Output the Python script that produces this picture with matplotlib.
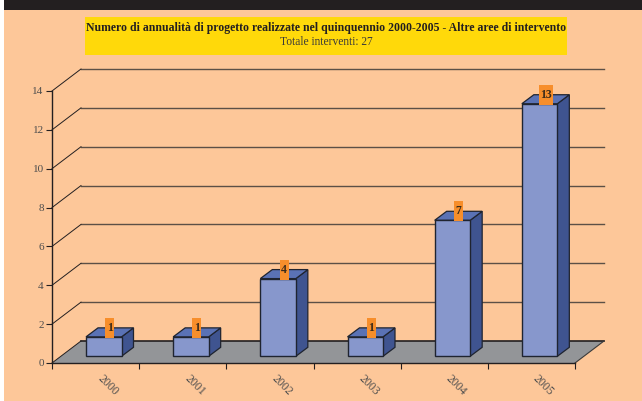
import matplotlib
matplotlib.use('Agg')
import matplotlib.pyplot as plt
from matplotlib.patches import Polygon, Rectangle

plt.rcParams['font.family'] = ['Liberation Serif', 'DejaVu Serif']

years = ['2000', '2001', '2002', '2003', '2004', '2005']
values = [1, 1, 4, 1, 7, 13]
yticks = [0, 2, 4, 6, 8, 10, 12, 14]
title = 'Numero di annualità di progetto realizzate nel quinquennio 2000-2005 - Altre aree di intervento'
subtitle = 'Totale interventi: 27'

W, H = 642, 401
fig = plt.figure(figsize=(W / 100, H / 100), dpi=100, facecolor='white')

# page background, in pixels
bg = fig.add_axes([0, 0, 1, 1])
bg.set_xlim(0, W)
bg.set_ylim(H, 0)
bg.axis('off')
bg.add_patch(Rectangle((3.5, 0), W, H, fc='#FDC799', ec='none'))
bg.add_patch(Rectangle((3.5, 0), W, 9.5, fc='#231F20', ec='none'))
bg.add_patch(Rectangle((85, 17), 482, 38, fc='#FFD90A', ec='none'))
bg.text(326, 27.5, title, ha='center', va='center', fontsize=8.5, fontweight='bold', color='#231F20')
bg.text(326, 42, subtitle, ha='center', va='center', fontsize=8.3, color='#3a3a3a')

# front plane of the chart
left, right, y0, y14 = 52, 575, 363, 91
ax = fig.add_axes([left / W, 1 - y0 / H, (right - left) / W, (y0 - y14) / H])
ax.patch.set_alpha(0)
ax.set_xlim(0, 6)
ax.set_ylim(0, 14)
for s in ['top', 'right']:
    ax.spines[s].set_visible(False)
for s in ['left', 'bottom']:
    ax.spines[s].set_color('#231F20')
    ax.spines[s].set_linewidth(1)
    ax.spines[s].set_zorder(6)
ax.set_xticks(range(7))
ax.set_xticklabels([])
ax.set_yticks(yticks)
ax.tick_params(axis='both', length=4, width=0.8, color='#231F20', pad=2)
ax.tick_params(axis='y', labelsize=8, labelcolor='#4d4d4d')

px = 6 / (right - left)
py = 14 / (y0 - y14)
dx, dy = 29 * px, 22 * py
bdx, bdy = 12 * px, 9 * py
bar_left, bar_w, bar_base = 34 * px, 35.5 * px, 6.7 * py

# floor
ax.add_patch(Polygon([(0, 0), (6, 0), (6 + dx, dy), (dx, dy)], closed=True, fc='#939598',
                     ec='none', clip_on=False, zorder=1))
ax.plot([dx, 6 + dx], [dy, dy], color='#231F20', lw=1.2, clip_on=False, zorder=2)
ax.plot([6, 6 + dx], [0, dy], color='#3a3a3a', lw=0.8, clip_on=False, zorder=2)

# walls: grid lines at the back and diagonals to the ticks
for t in yticks:
    ax.plot([0, dx], [t, t + dy], color='#231F20', lw=0.7, clip_on=False, zorder=2)
    if t > 0:
        ax.plot([dx, 6 + dx], [t + dy, t + dy], color='#5c5046', lw=1, clip_on=False, zorder=1)

# bars
for i, v in enumerate(values):
    x = i + bar_left
    top = bar_base + v
    ax.add_patch(Polygon([(x + bar_w, bar_base), (x + bar_w + bdx, bar_base + bdy),
                          (x + bar_w + bdx, top + bdy), (x + bar_w, top)], closed=True,
                         fc='#3F5490', ec='#1f2430', lw=0.9, clip_on=False, zorder=3))
    ax.add_patch(Polygon([(x, top), (x + bar_w, top), (x + bar_w + bdx, top + bdy), (x + bdx, top + bdy)],
                         closed=True, fc='#5A72B5', ec='#1f2430', lw=0.9, clip_on=False, zorder=3))
    ax.add_patch(Rectangle((x, bar_base), bar_w, v, fc='#8797CC', ec='#1f2430', lw=1,
                           clip_on=False, zorder=4))
    # value label sits on the middle of the bar top
    cx = x + (bar_w + bdx) / 2
    cy = top + 9 * py
    box_w = (14 if v > 9 else 9) * px
    box_h = 20 * py
    ax.add_patch(Rectangle((cx - box_w / 2, cy - box_h / 2), box_w, box_h, fc='#F78E2B', ec='none',
                           clip_on=False, zorder=5))
    ax.text(cx, cy, str(v), ha='center', va='center', fontsize=8.5, fontweight='bold',
            color='#3a2a1a', zorder=6)
    ax.text(i + 0.5 + 12 * px, -22 * py, years[i], ha='center', va='center', rotation=-45,
            rotation_mode='anchor', fontsize=8.5, color='#4d4d4d', clip_on=False)

fig.savefig('out.png', dpi=100, facecolor=fig.get_facecolor())
